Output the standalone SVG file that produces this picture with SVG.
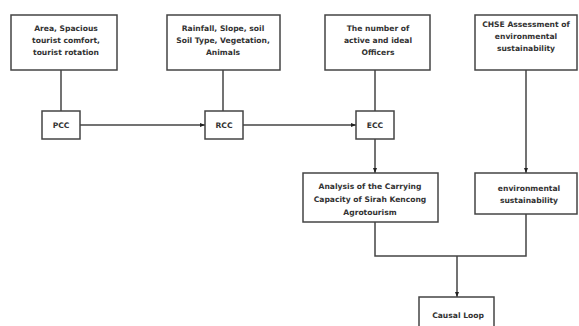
<svg xmlns="http://www.w3.org/2000/svg" width="579" height="326" viewBox="0 0 579 326">
<defs>
<style>
.box{fill:#fff;stroke:#444;stroke-width:1.5}
.ln{fill:none;stroke:#444;stroke-width:1.5}
text{font-family:"DejaVu Sans",Verdana,sans-serif;font-weight:bold;font-size:7.6px;fill:#333;text-anchor:middle}
</style>
<marker id="ah" viewBox="0 0 10 10" refX="10" refY="5" markerWidth="5" markerHeight="5" orient="auto" markerUnits="userSpaceOnUse">
<path d="M0,1 L10,5 L0,9 Z" fill="#222"/>
</marker>
</defs>
<rect width="579" height="326" fill="#fff"/>
<g id="connectors">
<line class="ln" x1="61" y1="70" x2="61" y2="111"/>
<line class="ln" x1="223" y1="70" x2="223" y2="111"/>
<line class="ln" x1="375" y1="70" x2="375" y2="111"/>
<line class="ln" x1="80" y1="125" x2="205" y2="125" marker-end="url(#ah)"/>
<line class="ln" x1="243" y1="125" x2="356" y2="125" marker-end="url(#ah)"/>
<line class="ln" x1="375" y1="139" x2="375" y2="173" marker-end="url(#ah)"/>
<line class="ln" x1="526" y1="70" x2="526" y2="173" marker-end="url(#ah)"/>
<polyline class="ln" points="375,222 375,256 526,256 526,214"/>
<line class="ln" x1="457" y1="256" x2="457" y2="297" marker-end="url(#ah)"/>
</g>
<g id="n1">
<rect class="box" x="11" y="15" width="106" height="55"/>
<text x="66" y="31">Area, Spacious</text>
<text x="66" y="43">tourist comfort,</text>
<text x="66" y="55">tourist rotation</text>
</g>
<g id="n2">
<rect class="box" x="167" y="15" width="113" height="55"/>
<text x="223" y="31">Rainfall, Slope, soil</text>
<text x="223" y="43">Soil Type, Vegetation,</text>
<text x="223" y="55">Animals</text>
</g>
<g id="n3">
<rect class="box" x="325" y="15" width="105" height="55"/>
<text x="378" y="31">The number of</text>
<text x="378" y="43">active and ideal</text>
<text x="378" y="55">Officers</text>
</g>
<g id="n4">
<rect class="box" x="475" y="15" width="102" height="55"/>
<text x="526" y="27">CHSE Assessment of</text>
<text x="526" y="39">environmental</text>
<text x="526" y="51">sustainability</text>
</g>
<g id="pcc">
<rect class="box" x="42" y="111" width="38" height="28"/>
<text x="61" y="128">PCC</text>
</g>
<g id="rcc">
<rect class="box" x="205" y="111" width="38" height="28"/>
<text x="224" y="128">RCC</text>
</g>
<g id="ecc">
<rect class="box" x="356" y="111" width="38" height="28"/>
<text x="375" y="128">ECC</text>
</g>
<g id="analysis">
<rect class="box" x="303" y="173" width="135" height="49"/>
<text x="370" y="189">Analysis of the Carrying</text>
<text x="370" y="202">Capacity of Sirah Kencong</text>
<text x="370" y="215">Agrotourism</text>
</g>
<g id="env">
<rect class="box" x="475" y="173" width="102" height="41"/>
<text x="529" y="191">environmental</text>
<text x="529" y="203">sustainability</text>
</g>
<g id="causal">
<rect class="box" x="419" y="297" width="75" height="35"/>
<text x="458" y="318">Causal Loop</text>
</g>
</svg>
